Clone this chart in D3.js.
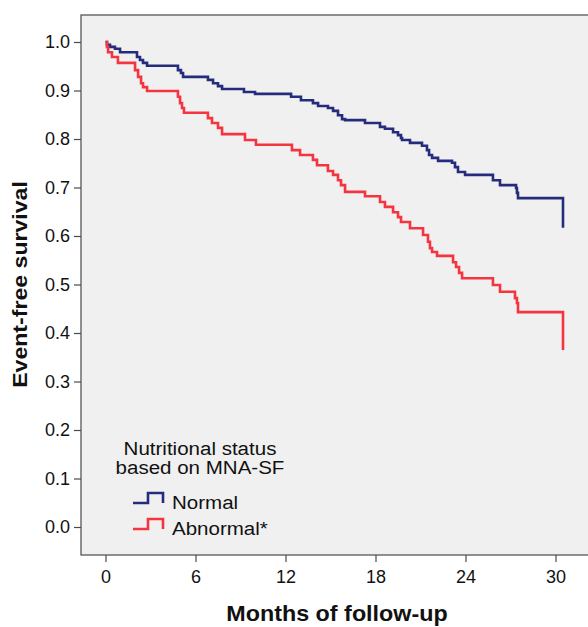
<!DOCTYPE html>
<html>
<head>
<meta charset="utf-8">
<script src="https://cdn.jsdelivr.net/npm/d3@7"></script>
<style>
  html, body { margin: 0; padding: 0; background: #ffffff; }
  svg { display: block; font-family: "Liberation Sans", Arial, sans-serif; }
</style>
</head>
<body>
<svg id="chart" width="588" height="627"></svg>
<script>
// Kaplan-Meier step estimates: event times (months) and survival after each drop
const normalTimes = [0, 0.1, 0.3, 0.63, 0.97, 2.1, 2.3, 2.5, 2.77, 4.83, 5.03, 5.17, 6.83, 7.17, 7.5, 7.77,
  9.23, 9.97, 12.37, 13.03, 13.83, 14.17, 14.83, 15.17, 15.5, 15.77, 15.97, 17.3, 18.3, 18.63, 19.17,
  19.5, 19.7, 19.77, 20.3, 21.1, 21.43, 21.57, 21.77, 22.17, 23.1, 23.3, 23.5, 23.97, 25.83, 26.3,
  27.37, 27.43, 27.5, 30.5];
const normalSurvival = [1.0, 0.994, 0.990, 0.986, 0.979, 0.969, 0.963, 0.957, 0.951, 0.942, 0.936, 0.928,
  0.922, 0.915, 0.909, 0.903, 0.897, 0.893, 0.887, 0.880, 0.874, 0.868, 0.864, 0.858, 0.849, 0.841,
  0.839, 0.833, 0.825, 0.821, 0.814, 0.808, 0.802, 0.798, 0.792, 0.786, 0.777, 0.767, 0.761, 0.755,
  0.751, 0.742, 0.732, 0.726, 0.715, 0.705, 0.699, 0.689, 0.678, 0.617];

const abnormalTimes = [0, 0.1, 0.17, 0.43, 0.83, 1.97, 2.17, 2.37, 2.5, 2.77, 4.83, 4.97, 5.1, 5.23, 6.83,
  7.1, 7.5, 7.77, 9.3, 10.03, 12.43, 12.97, 13.83, 14.1, 14.83, 15.17, 15.5, 15.7, 15.97, 17.3, 18.3,
  18.63, 19.17, 19.5, 19.7, 20.3, 21.17, 21.5, 21.63, 21.77, 22.1, 23.17, 23.37, 23.57, 23.77, 25.83,
  26.3, 27.3, 27.43, 27.5, 30.5];
const abnormalSurvival = [1.0, 0.990, 0.979, 0.969, 0.957, 0.942, 0.928, 0.915, 0.907, 0.899, 0.887, 0.874,
  0.864, 0.854, 0.843, 0.833, 0.823, 0.810, 0.798, 0.788, 0.777, 0.767, 0.757, 0.746, 0.734, 0.726,
  0.715, 0.705, 0.691, 0.682, 0.670, 0.660, 0.649, 0.639, 0.629, 0.616, 0.602, 0.588, 0.575, 0.567,
  0.559, 0.546, 0.536, 0.524, 0.513, 0.499, 0.485, 0.472, 0.462, 0.443, 0.365];

const xTicks = [0, 6, 12, 18, 24, 30];
const yTicks = [0.0, 0.1, 0.2, 0.3, 0.4, 0.5, 0.6, 0.7, 0.8, 0.9, 1.0];

const groupNames = ["Normal", "Abnormal*"];
const groupColors = ["#252c7c", "#f4353f"];
const legendTitle = ["Nutritional status", "based on MNA-SF"];
const xTitle = "Months of follow-up";
const yTitle = "Event-free survival";

const svg = d3.select("#chart");
const frame = { left: 81, top: 15, right: 590, bottom: 555 };

const x = d3.scaleLinear().domain([0, 30]).range([105.5, 555.5]);
const y = d3.scaleLinear().domain([0, 1]).range([527, 42]);

// widen a text run horizontally by a factor, keeping its anchor
function widen(sel, factor) {
  sel.each(function () {
    const w = this.getComputedTextLength();
    d3.select(this).attr("textLength", w * factor).attr("lengthAdjust", "spacingAndGlyphs");
  });
}

// plot panel
svg.append("rect")
  .attr("x", frame.left).attr("y", frame.top)
  .attr("width", frame.right - frame.left).attr("height", frame.bottom - frame.top)
  .attr("fill", "#f0f0f0")
  .attr("stroke", "#4a4a4a").attr("stroke-width", 1.2);

// axes
const xAxis = d3.axisBottom(x).tickValues(xTicks).tickSize(7).tickPadding(8)
  .tickFormat(d3.format("d"));
const gx = svg.append("g").attr("transform", `translate(0,${frame.bottom})`).call(xAxis);
gx.select(".domain").remove();

const yAxis = d3.axisLeft(y).tickValues(yTicks).tickSize(7).tickPadding(4)
  .tickFormat(d3.format(".1f"));
const gy = svg.append("g").attr("transform", `translate(${frame.left},0)`).call(yAxis);
gy.select(".domain").remove();

[gx, gy].forEach(g => {
  g.selectAll(".tick line").attr("stroke", "#4a4a4a").attr("stroke-width", 1.2);
  g.selectAll(".tick text")
    .attr("fill", "#111")
    .style("font-family", '"Liberation Sans", Arial, sans-serif')
    .style("font-size", "18px");
});

// axis titles
svg.append("text")
  .attr("x", 337).attr("y", 621)
  .attr("text-anchor", "middle")
  .style("font-size", "22px").style("font-weight", "bold").attr("fill", "#111")
  .text(xTitle)
  .call(widen, 1.06);

svg.append("text")
  .attr("transform", `translate(27,${y(0.5)}) rotate(-90)`)
  .attr("text-anchor", "middle")
  .style("font-size", "21px").style("font-weight", "bold").attr("fill", "#111")
  .text(yTitle)
  .call(widen, 1.1);

// survival curves
const series = [
  { times: normalTimes, surv: normalSurvival },
  { times: abnormalTimes, surv: abnormalSurvival }
];
const line = d3.line().x(d => x(d[0])).y(d => y(d[1])).curve(d3.curveStepAfter);

series.forEach((s, i) => {
  const pts = s.times.map((t, k) => [t, s.surv[k]]);
  svg.append("path")
    .datum(pts)
    .attr("d", line)
    .attr("fill", "none")
    .attr("stroke", groupColors[i])
    .attr("stroke-width", 2.6)
    .attr("stroke-linejoin", "miter")
    .attr("stroke-linecap", "butt");
});

// legend
const legend = svg.append("g");
legendTitle.forEach((t, i) => {
  legend.append("text")
    .attr("x", 200).attr("y", 455 + i * 19)
    .attr("text-anchor", "middle")
    .style("font-size", "18px").attr("fill", "#111")
    .text(t)
    .call(widen, 1.14);
});
groupNames.forEach((name, i) => {
  const base = 503 + i * 26;
  legend.append("path")
    .attr("d", `M133,${base} H148 V${base - 10} H163 V${base}`)
    .attr("fill", "none")
    .attr("stroke", groupColors[i])
    .attr("stroke-width", 2.6);
  legend.append("text")
    .attr("x", 172).attr("y", base + 6)
    .style("font-size", "18px").attr("fill", "#111")
    .text(name)
    .call(widen, 1.14);
});
</script>
</body>
</html>
